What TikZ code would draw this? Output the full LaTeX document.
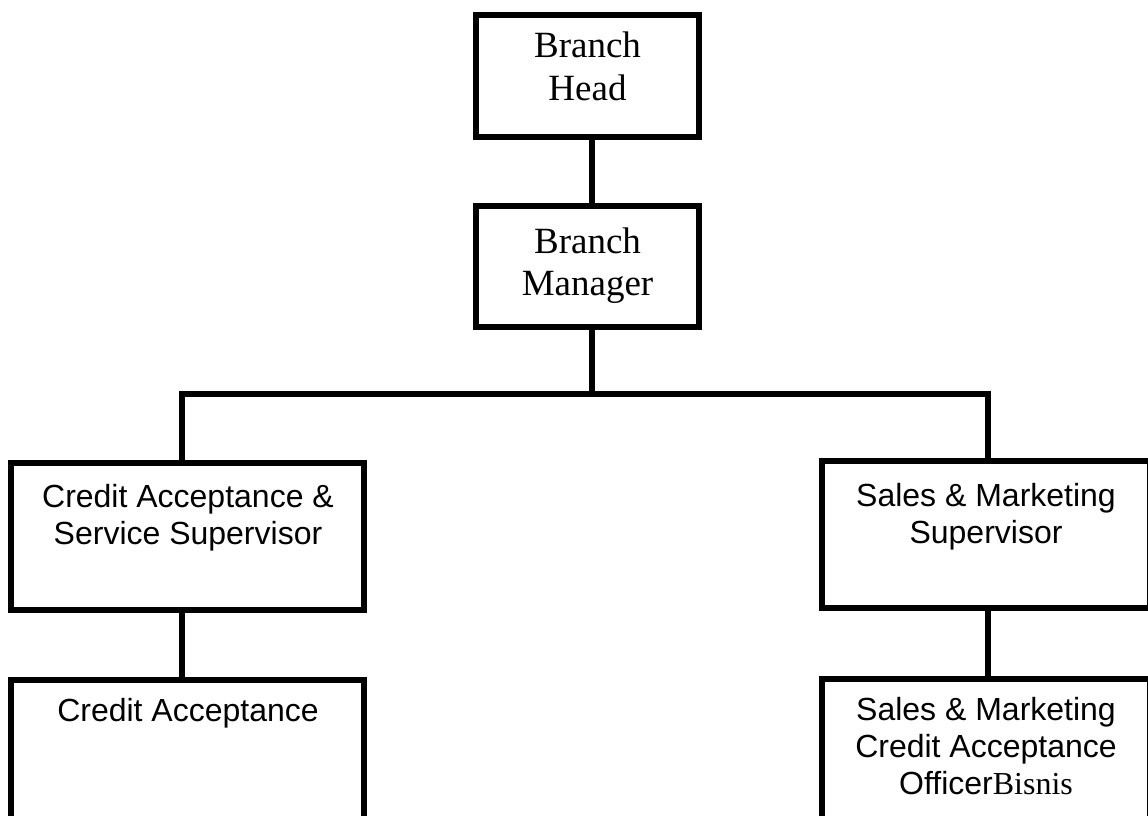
\documentclass[tikz,border=0pt]{standalone}
\usepackage{fontspec}
\setmainfont{Liberation Serif}
\setsansfont{Liberation Sans}
\begin{document}
\begin{tikzpicture}[x=1pt,y=-1pt,
  box/.style={draw=black, line width=5.5pt, rectangle, inner sep=0pt},
  conn/.style={draw=black, line width=5.5pt},
  serif/.style={font=\fontsize{37}{42.5}\selectfont, align=center, inner sep=0pt},
  sans/.style={font=\sffamily\fontsize{32}{37}\selectfont, align=center, inner sep=0pt, anchor=north}]
\clip (0,0) rectangle (1148,815);
\fill[white] (0,0) rectangle (1148,815);
% boxes
\node[box, minimum width=223pt, minimum height=122pt] (head) at (587.5,76) {};
\node[box, minimum width=223pt, minimum height=121pt] (mgr) at (587.5,266.5) {};
\node[box, minimum width=353pt, minimum height=147pt] (csup) at (187.5,536.5) {};
\node[box, minimum width=328pt, minimum height=147pt] (ssup) at (986,534.5) {};
\node[box, minimum width=353pt, minimum height=300pt] (cacc) at (187.5,830) {};
\node[box, minimum width=328pt, minimum height=300pt] (sacc) at (986,829) {};
% texts
\node[serif] (thead) at (587.5,66.5) {Branch\\Head};
\node[serif] (tmgr) at (587.5,265.5) {Branch\\Manager};
\node[sans] (tcsup) at (188,484) {Credit Acceptance \&\\Service Supervisor};
\node[sans] (tssup) at (986,483) {Sales \& Marketing\\Supervisor};
\node[sans] (tcacc) at (188,698) {Credit Acceptance};
\node[sans] (tsacc) at (986,697) {Sales \& Marketing\\Credit Acceptance\\Officer{\rmfamily Bisnis}};
% connectors
\coordinate (busL) at (182,394);
\coordinate (busR) at (988,394);
\coordinate (busM) at (592,394);
\draw[conn] ([xshift=4.5pt]head.south) -- ([xshift=4.5pt]mgr.north);
\draw[conn] ([xshift=4.5pt]mgr.south) -- (busM);
\draw[conn] (csup.north -| busL) -- (busL) -- (busR) -- (ssup.north -| busR);
\draw[conn] (csup.south -| busL) -- (cacc.north -| busL);
\draw[conn] (ssup.south -| busR) -- (sacc.north -| busR);
\end{tikzpicture}
\end{document}
